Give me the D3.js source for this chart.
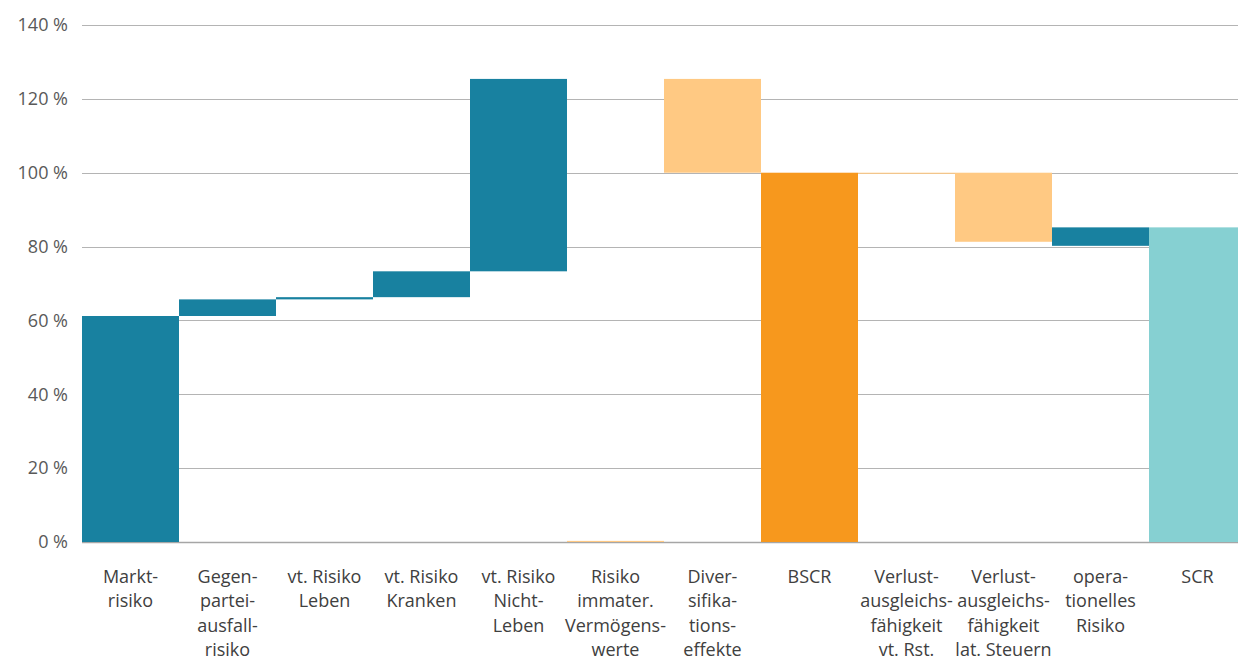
<!DOCTYPE html>
<html>
<head>
<meta charset="utf-8">
<script src="https://cdn.jsdelivr.net/npm/d3@7"></script>
<style>
  body { margin: 0; background: #fff; }
  svg { font-family: "Open Sans", "Noto Sans", sans-serif; }
</style>
</head>
<body>
<div class="chart"></div>
<script>
// waterfall pieces: start and end value of each bar (in %)
const categories = [
  ["Markt-", "risiko"],
  ["Gegen-", "partei-", "ausfall-", "risiko"],
  ["vt. Risiko", "Leben"],
  ["vt. Risiko", "Kranken"],
  ["vt. Risiko", "Nicht-", "Leben"],
  ["Risiko", "immater.", "Vermögens-", "werte"],
  ["Diver-", "sifika-", "tions-", "effekte"],
  ["BSCR"],
  ["Verlust-", "ausgleichs-", "fähigkeit", "vt. Rst."],
  ["Verlust-", "ausgleichs-", "fähigkeit", "lat. Steuern"],
  ["opera-", "tionelles", "Risiko"],
  ["SCR"]
];
const startVals = [0, 61.2, 65.7, 66.3, 73.3, 0, 125.4, 0, 100, 100, 80.2, 0];
const endVals   = [61.2, 65.7, 66.3, 73.3, 125.4, 0.3, 100, 100, 99.7, 81.3, 85.2, 85.2];
const kinds     = ["up", "up", "up", "up", "up", "down", "down", "total", "down", "down", "up", "final"];
const yTicks    = [0, 20, 40, 60, 80, 100, 120, 140];

const colors = {up: "#1881a0", down: "#ffc983", total: "#f7981d", final: "#86d0d2"};

const W = 1238, H = 662;
const margin = {left: 82, top: 25, bottom: 542};

const svg = d3.select('.chart')
  .append('svg')
  .attr('width', W)
  .attr('height', H);

const xScale = d3.scaleBand()
  .domain(d3.range(categories.length))
  .range([margin.left, 1246])
  .paddingInner(0)
  .paddingOuter(0);

const yScale = d3.scaleLinear()
  .domain([0, 140])
  .range([margin.bottom, margin.top]);

// gridlines
svg.append("g")
  .selectAll("line")
  .data(yTicks)
  .join("line")
  .attr("x1", margin.left)
  .attr("x2", W)
  .attr("y1", d => Math.round(yScale(d)) + 0.5)
  .attr("y2", d => Math.round(yScale(d)) + 0.5)
  .attr("stroke", d => d === 0 ? "#a6a6a6" : "#b4b4b4")
  .attr("stroke-width", d => d === 0 ? 1.5 : 1);

// y axis labels
const yAxis = d3.axisLeft(yScale)
  .tickValues(yTicks)
  .tickSize(0)
  .tickPadding(14)
  .tickFormat(d => d + " %");

svg.append("g")
  .attr("class", "axis y-axis")
  .attr("transform", "translate(" + margin.left + ",0)")
  .call(yAxis)
  .call(g => g.select(".domain").remove())
  .selectAll("text")
  .attr("font-size", 18)
  .attr("fill", "#595959")
  .attr("font-family", "'Open Sans', 'Noto Sans', sans-serif");

// bars
const bars = categories.map((c, i) => ({i, s: startVals[i], e: endVals[i], k: kinds[i]}));

svg.append("g")
  .selectAll("rect")
  .data(bars)
  .join("rect")
  .attr("x", d => xScale(d.i))
  .attr("width", xScale.bandwidth())
  .attr("y", d => yScale(Math.max(d.s, d.e)))
  .attr("height", d => Math.max(1, Math.abs(yScale(d.s) - yScale(d.e))))
  .attr("fill", d => colors[d.k]);

// x labels
const xl = svg.append("g")
  .selectAll("text")
  .data(categories)
  .join("text")
  .attr("x", (d, i) => xScale(i) + xScale.bandwidth() / 2)
  .attr("y", 583)
  .attr("text-anchor", "middle")
  .attr("font-size", 18)
  .attr("fill", "#404040");

xl.selectAll("tspan")
  .data(d => d)
  .join("tspan")
  .attr("x", function() { return this.parentNode.getAttribute("x"); })
  .attr("dy", (d, j) => j === 0 ? 0 : 24.3)
  .text(d => d);
</script>
</body>
</html>
